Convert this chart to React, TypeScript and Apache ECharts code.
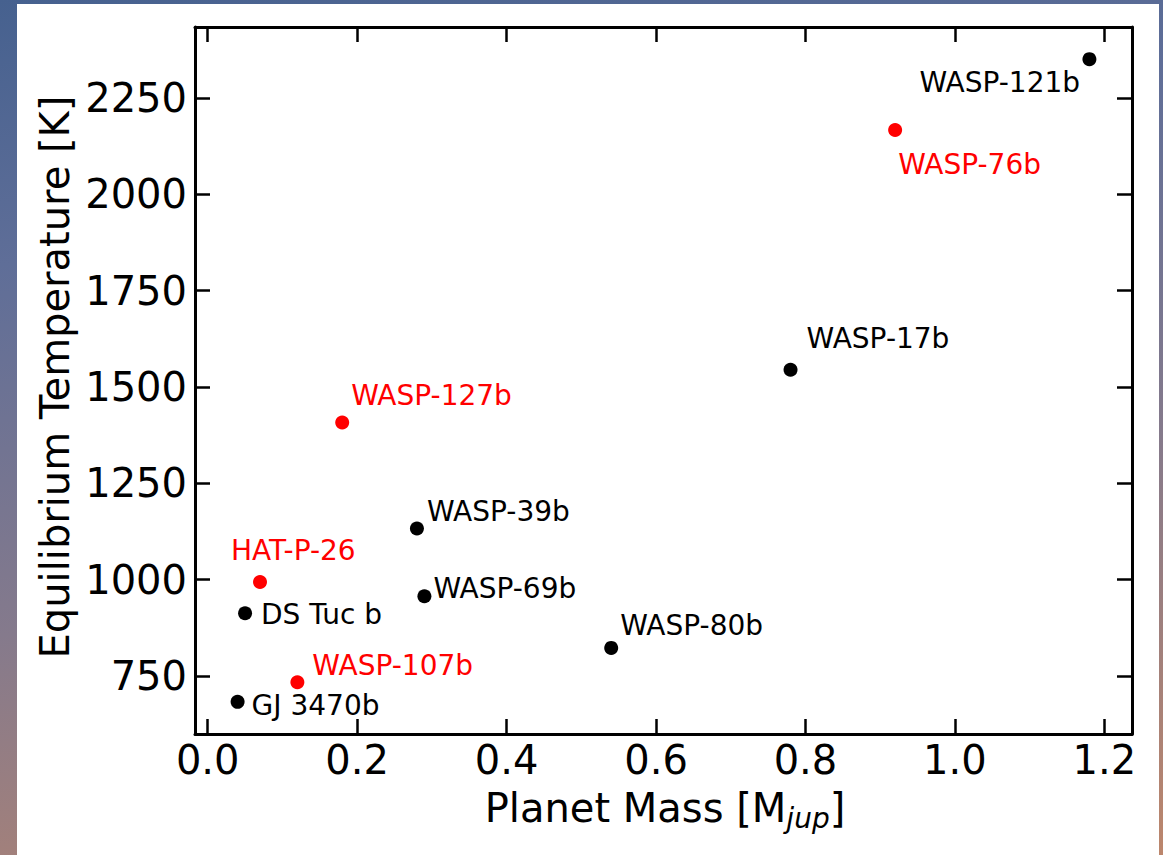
import React, { useEffect, useRef } from "react";
import * as echarts from "echarts";

// Planet sample: mass in Jupiter masses vs. equilibrium temperature
const planets = [
  "WASP-121b",
  "WASP-76b",
  "WASP-17b",
  "WASP-127b",
  "WASP-39b",
  "WASP-69b",
  "WASP-80b",
  "HAT-P-26",
  "DS Tuc b",
  "WASP-107b",
  "GJ 3470b",
];
const massJup = [1.18, 0.92, 0.78, 0.18, 0.28, 0.29, 0.54, 0.07, 0.05, 0.12, 0.04];
const teqK = [2351, 2167, 1545, 1408, 1133, 957, 823, 994, 913, 734, 683];
const highlighted = [false, true, false, true, false, false, false, true, false, true, false];

const xTicks = [0, 0.2, 0.4, 0.6, 0.8, 1.0, 1.2];
const yTicks = [750, 1000, 1250, 1500, 1750, 2000, 2250];

// Label placement relative to each marker centre (px): [dx to text start, dy to text middle]
const labelOffsets: [number, number][] = [
  [-170, 23],
  [3, 34],
  [16, -31],
  [9, -27],
  [10, -17],
  [9, -8],
  [9, -22],
  [-29, -32],
  [16, 1],
  [15, -17],
  [14, 4],
];

const FONT = "DejaVu Sans";
const MARKER = 14;

export default function App() {
  const ref = useRef<HTMLDivElement>(null);

  useEffect(() => {
    if (!ref.current) return;
    const chart = echarts.init(ref.current, undefined, { renderer: "svg" });

    const data = planets.map((name, i) => {
      const color = highlighted[i] ? "#ff0000" : "#000000";
      const [dx, dy] = labelOffsets[i];
      return {
        name,
        value: [massJup[i], teqK[i]],
        itemStyle: { color, opacity: 1 },
        label: {
          show: true,
          formatter: "{b}",
          position: [dx + MARKER / 2, dy + MARKER / 2],
          align: "left",
          verticalAlign: "middle",
          color,
          opacity: 1,
          fontSize: 28,
          fontFamily: FONT,
        },
      };
    });

    const axisLine = { show: true, onZero: false, lineStyle: { color: "#000", width: 3 } };
    const tickStyle = { color: "#000", width: 2.5 };

    chart.setOption({
      animation: false,
      backgroundColor: "transparent",
      grid: { left: 195, right: 31, top: 27, bottom: 121 },
      xAxis: [
        {
          type: "value",
          position: "bottom",
          min: -0.017,
          max: 1.237,
          axisLine,
          axisTick: { show: true, inside: true, length: 15, lineStyle: tickStyle, customValues: xTicks },
          axisLabel: {
            customValues: xTicks,
            formatter: (v: number) => v.toFixed(1),
            fontSize: 40,
            fontFamily: FONT,
            color: "#000",
            margin: 6,
          },
          splitLine: { show: false },
        },
        {
          type: "value",
          position: "top",
          min: -0.017,
          max: 1.237,
          axisLine,
          axisTick: { show: true, inside: true, length: 15, lineStyle: tickStyle, customValues: xTicks },
          axisLabel: { show: false },
          splitLine: { show: false },
        },
      ],
      yAxis: [
        {
          type: "value",
          position: "left",
          min: 599.6,
          max: 2434.4,
          axisLine,
          axisTick: { show: true, inside: true, length: 15, lineStyle: tickStyle, customValues: yTicks },
          axisLabel: {
            customValues: yTicks,
            formatter: (v: number) => String(v),
            fontSize: 40,
            fontFamily: FONT,
            color: "#000",
            margin: 8,
          },
          splitLine: { show: false },
        },
        {
          type: "value",
          position: "right",
          min: 599.6,
          max: 2434.4,
          axisLine,
          axisTick: { show: true, inside: true, length: 15, lineStyle: tickStyle, customValues: yTicks },
          axisLabel: { show: false },
          splitLine: { show: false },
        },
      ],
      series: [
        {
          type: "scatter",
          xAxisIndex: 0,
          yAxisIndex: 0,
          symbol: "circle",
          symbolSize: MARKER,
          itemStyle: { opacity: 1 },
          emphasis: { disabled: true },
          data,
        },
      ],
      graphic: [
        {
          type: "text",
          x: 665,
          y: 808,
          style: {
            text: "{a|Planet Mass [M}{s|jup}{a|]}",
            align: "center",
            verticalAlign: "middle",
            rich: {
              a: { fontSize: 40, fontFamily: FONT, fill: "#000", lineHeight: 48, verticalAlign: "middle" },
              s: { fontSize: 28, fontFamily: FONT, fontStyle: "italic", fill: "#000", lineHeight: 32, verticalAlign: "bottom" },
            },
          },
        },
        {
          type: "text",
          x: 55,
          y: 377,
          rotation: Math.PI / 2,
          style: {
            text: "Equilibrium Temperature [K]",
            fontSize: 40,
            fontFamily: FONT,
            fill: "#000",
            align: "center",
            verticalAlign: "middle",
          },
        },
      ],
    });

    return () => chart.dispose();
  }, []);

  return (
    <div
      style={{
        position: "fixed",
        left: 0,
        top: 0,
        width: 1163,
        height: 855,
        background: "linear-gradient(170deg, #46618f 0%, #5f6e98 25%, #857a8c 60%, #bc866c 100%)",
        overflow: "hidden",
      }}
    >
      <div
        style={{
          position: "absolute",
          left: 17,
          top: 4,
          width: 1142,
          height: 851,
          background: "#ffffff",
        }}
      />
      <div ref={ref} style={{ position: "absolute", left: 0, top: 0, width: 1163, height: 855 }} />
    </div>
  );
}
